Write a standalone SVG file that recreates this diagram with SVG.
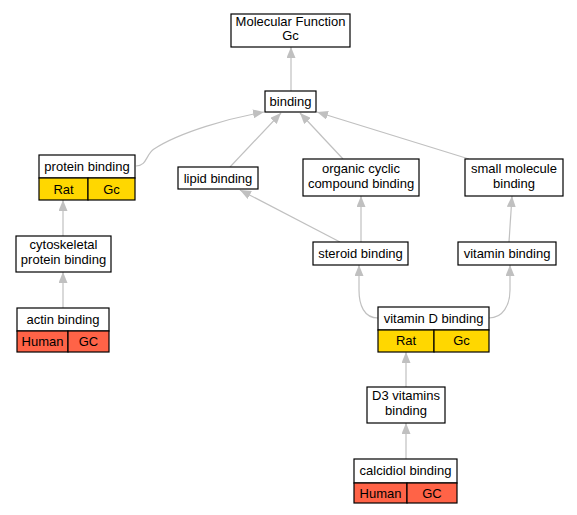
<svg xmlns="http://www.w3.org/2000/svg" width="577" height="515" viewBox="0 0 577 515">
<defs>
<style>
.box{fill:#fff;stroke:#000;stroke-width:1.2}
.rat{fill:#ffd700;stroke:#000;stroke-width:1.2}
.hum{fill:#ff6347;stroke:#000;stroke-width:1.2}
text{font-family:"Liberation Sans",Arial,sans-serif;font-size:13px;fill:#000;text-anchor:middle}
.e{fill:none;stroke:#c0c0c0;stroke-width:1.2;marker-end:url(#ah)}
</style>
<marker id="ah" markerUnits="userSpaceOnUse" markerWidth="11" markerHeight="9" refX="11" refY="4.5" orient="auto">
<path d="M0,0 L11,4.5 L0,9 z" fill="#c0c0c0"/>
</marker>
</defs>
<rect width="577" height="515" fill="#fff"/>
<g id="edges">
<path class="e" d="M291,91 L291,47"/>
<path class="e" d="M136,166 C147,166 146,154 154,149 C180,132 230,118 264,112"/>
<path class="e" d="M230,167 L281,113"/>
<path class="e" d="M343,159 L300,113"/>
<path class="e" d="M469,159 L317,112"/>
<path class="e" d="M63,236 L63,200"/>
<path class="e" d="M63,308 L63,272"/>
<path class="e" d="M340,242 L240,190"/>
<path class="e" d="M361,242 L361,196"/>
<path class="e" d="M509,242 L512,196"/>
<path class="e" d="M378,318 C364,318 359,305 359,290 L359,265"/>
<path class="e" d="M489,318 C503,318 510,305 510,290 L510,265"/>
<path class="e" d="M406,387 L406,352"/>
<path class="e" d="M406,459 L406,423"/>
</g>
<g id="mf"><rect class="box" x="231" y="14" width="119" height="33"/><text x="290.5" y="26">Molecular Function</text><text x="290.5" y="40">Gc</text></g>
<g id="binding"><rect class="box" x="265" y="91" width="51" height="21"/><text x="290.5" y="106">binding</text></g>
<g id="protein"><rect class="box" x="39" y="155" width="96" height="23"/><rect class="rat" x="39" y="178" width="49" height="22"/><rect class="rat" x="88" y="178" width="47" height="22"/><text x="87" y="170.5">protein binding</text><text x="63.5" y="193.5">Rat</text><text x="111.5" y="193.5">Gc</text></g>
<g id="lipid"><rect class="box" x="178" y="167" width="80" height="22"/><text x="218" y="182.5">lipid binding</text></g>
<g id="organic"><rect class="box" x="303" y="159" width="116" height="37"/><text x="361" y="172.5">organic cyclic</text><text x="361" y="187.5">compound binding</text></g>
<g id="small"><rect class="box" x="465" y="159" width="98" height="37"/><text x="514" y="172.5">small molecule</text><text x="514" y="187.5">binding</text></g>
<g id="cyto"><rect class="box" x="16" y="236" width="95" height="36"/><text x="63.5" y="249">cytoskeletal</text><text x="63.5" y="263.5">protein binding</text></g>
<g id="steroid"><rect class="box" x="313" y="242" width="95" height="23"/><text x="360.5" y="257.5">steroid binding</text></g>
<g id="vitamin"><rect class="box" x="458" y="242" width="98" height="23"/><text x="507" y="257.5">vitamin binding</text></g>
<g id="actin"><rect class="box" x="17" y="308" width="92" height="23"/><rect class="hum" x="17" y="331" width="51" height="21"/><rect class="hum" x="68" y="331" width="41" height="21"/><text x="63" y="323.5">actin binding</text><text x="42.5" y="346">Human</text><text x="88.5" y="346">GC</text></g>
<g id="vitd"><rect class="box" x="378" y="307" width="111" height="23"/><rect class="rat" x="378" y="330" width="56" height="22"/><rect class="rat" x="434" y="330" width="55" height="22"/><text x="433.5" y="322.5">vitamin D binding</text><text x="406" y="345">Rat</text><text x="461.5" y="345">Gc</text></g>
<g id="d3"><rect class="box" x="367" y="387" width="78" height="36"/><text x="406" y="400">D3 vitamins</text><text x="406" y="414.5">binding</text></g>
<g id="calc"><rect class="box" x="354" y="459" width="103" height="24"/><rect class="hum" x="354" y="483" width="53" height="20"/><rect class="hum" x="407" y="483" width="50" height="20"/><text x="405.5" y="474.5">calcidiol binding</text><text x="380.5" y="497.5">Human</text><text x="432" y="497.5">GC</text></g>
</svg>
